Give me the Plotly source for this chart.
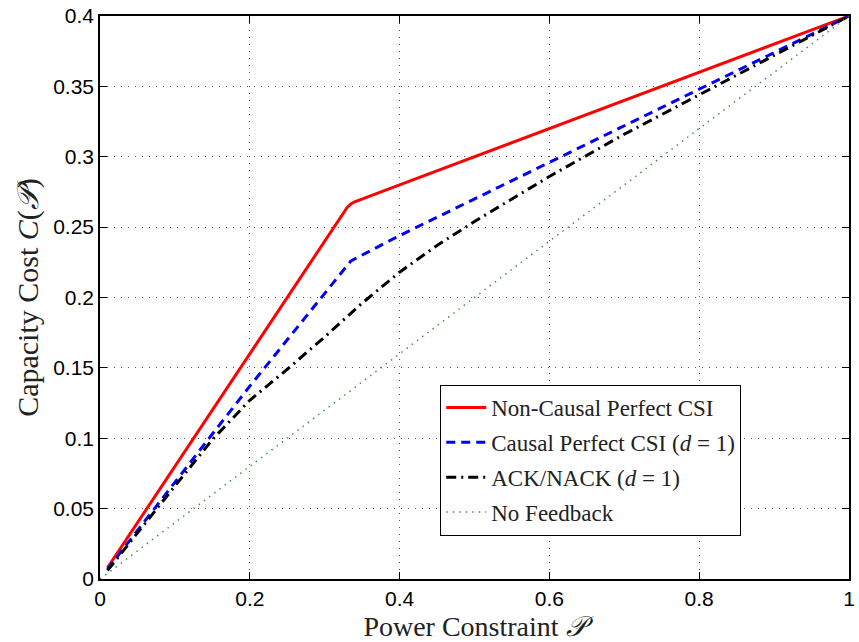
import plotly.graph_objects as go

P_red = [0.01, 0.1, 0.2, 0.3, 0.33, 0.335, 0.34, 0.4, 0.5, 0.6, 0.7, 0.8, 0.9, 1.0]
C_red = [0.008, 0.08, 0.16, 0.24, 0.264, 0.2665, 0.268, 0.28, 0.30, 0.32, 0.34, 0.36, 0.38, 0.40]

P_blue = [0.01, 0.1, 0.15, 0.2, 0.25, 0.3, 0.335, 0.4, 0.5, 0.6, 0.7, 0.8, 0.9, 1.0]
C_blue = [0.007, 0.069, 0.103, 0.137, 0.170, 0.203, 0.226, 0.244, 0.270, 0.296, 0.322, 0.348, 0.374, 0.40]

P_black = [0.01, 0.05, 0.1, 0.15, 0.2, 0.25, 0.3, 0.35, 0.4, 0.45, 0.5, 0.6, 0.7, 0.8, 0.9, 1.0]
C_black = [0.006, 0.033, 0.066, 0.099, 0.127, 0.149, 0.172, 0.196, 0.218, 0.237, 0.254, 0.286, 0.316, 0.344, 0.372, 0.40]

P_green = [0.0, 1.0]
C_green = [0.0, 0.40]

x_ticks = [0, 0.2, 0.4, 0.6, 0.8, 1]
x_labels = ["0", "0.2", "0.4", "0.6", "0.8", "1"]
y_ticks = [0, 0.05, 0.1, 0.15, 0.2, 0.25, 0.3, 0.35, 0.4]
y_labels = ["0", "0.05", "0.1", "0.15", "0.2", "0.25", "0.3", "0.35", "0.4"]

serif = "Liberation Serif, DejaVu Serif, serif"
sans = "Liberation Sans, Arial, sans-serif"

fig = go.Figure()
fig.add_trace(go.Scatter(x=P_red, y=C_red, mode="lines", name="Non-Causal Perfect CSI",
                         line=dict(color="#ff0000", width=3), legendgroup="a"))
fig.add_trace(go.Scatter(x=P_blue, y=C_blue, mode="lines", name="Causal Perfect CSI (<i>d</i> = 1)",
                         line=dict(color="#0000ff", width=3, dash="9px,6px"), legendgroup="b"))
fig.add_trace(go.Scatter(x=P_black, y=C_black, mode="lines", name="ACK/NACK (<i>d</i> = 1)",
                         line=dict(color="#000000", width=3, dash="10px,5px,2px,5px"), legendgroup="c"))
fig.add_trace(go.Scatter(x=P_green, y=C_green, mode="lines", name="No Feedback",
                         line=dict(color="#3a9a3a", width=1.5, dash="1.5px,5px"), legendgroup="d"))

axis_common = dict(
    showline=True, linecolor="black", linewidth=1.5, mirror="ticks",
    ticks="inside", ticklen=7, tickcolor="black", tickwidth=1,
    showgrid=True, gridcolor="#555555", griddash="1px,6px", gridwidth=1,
    zeroline=False, tickfont=dict(family=sans, size=21, color="black"),
)

fig.update_layout(
    width=859, height=642,
    margin=dict(l=100, r=4, t=12, b=60),
    paper_bgcolor="white", plot_bgcolor="white",
    showlegend=True,
    legend=dict(x=0.454, y=0.345, xanchor="left", yanchor="top",
                bgcolor="white", bordercolor="black", borderwidth=1.2,
                font=dict(family=serif, size=23, color="#222"),
                tracegroupgap=2, itemwidth=40),
    xaxis=dict(range=[0, 1], tickvals=x_ticks, ticktext=x_labels,
               title=dict(text="Power Constraint <i>𝒫</i>", font=dict(family=serif, size=28, color="#222"),
                          standoff=8),
               **axis_common),
    yaxis=dict(range=[0, 0.4], tickvals=y_ticks, ticktext=y_labels,
               title=dict(text="Capacity Cost <i>C</i>(<i>𝒫</i>)", font=dict(family=serif, size=30, color="#222"),
                          standoff=6),
               **axis_common),
)

fig.write_html("out.html")
